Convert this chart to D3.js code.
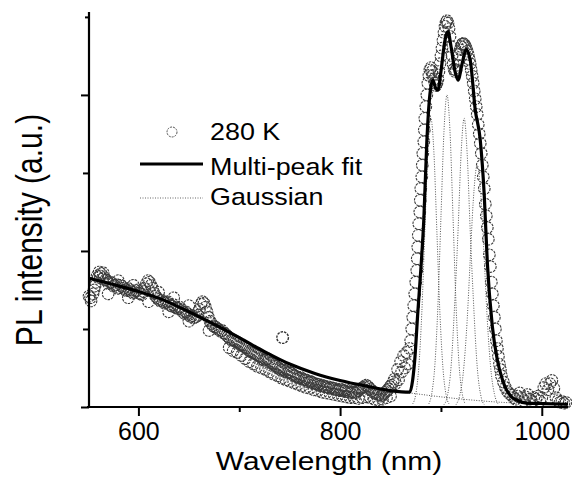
<!DOCTYPE html>
<html><head><meta charset="utf-8">
<script src="https://cdn.jsdelivr.net/npm/d3@7/dist/d3.min.js"></script>
<style>body{margin:0;background:#fff}svg{display:block}</style>
</head><body><svg id="c" width="572" height="480"></svg>
<script>
// ---- data (wavelength nm, PL intensity a.u.) ----
const scatterData = [
[551,1.42],[553,1.36],[555,1.45],[557,1.55],[559,1.68],[561,1.73],[563,1.71],[566,1.66],[569,1.62],[572,1.60],
[575,1.55],[578,1.57],[581,1.53],[584,1.55],[587,1.50],[590,1.52],[593,1.48],[596,1.47],[599,1.50],[602,1.45],
[605,1.48],[608,1.58],[611,1.60],[614,1.52],[617,1.42],[620,1.38],[623,1.37],[626,1.33],[629,1.35],[632,1.30],
[635,1.31],[638,1.27],[641,1.28],[644,1.22],[647,1.22],[650,1.18],[653,1.17],[656,1.15],[659,1.18],[662,1.32],
[665,1.33],[668,1.22],[671,1.10],[674,1.04],[677,1.02],[680,0.99],[683,0.98],[686,0.94],[689,0.90],[692,0.86],
[695,0.85],[698,0.83],[701,0.80],[704,0.78],[707,0.76],[710,0.72],[713,0.70],[716,0.68],[719,0.66],[722,0.63],
[725,0.60],[728,0.62],[731,0.57],[734,0.55],[737,0.52],[740,0.49],[743,0.48],[746,0.46],[749,0.45],[752,0.43],
[755,0.40],[758,0.38],[761,0.38],[764,0.35],[767,0.34],[770,0.33],[773,0.31],[776,0.30],[779,0.29],[782,0.28],
[785,0.26],[788,0.26],[791,0.25],[794,0.24],[797,0.22],[800,0.23],[803,0.21],[806,0.22],[809,0.19],[812,0.20],
[815,0.18],[818,0.21],[821,0.24],[824,0.26],[827,0.27],[830,0.23],[833,0.19],[836,0.17],[839,0.16],[842,0.15],
[845,0.19],[848,0.23],[851,0.28],[854,0.36],[855,0.30],[857,0.48],[858,0.35],[860,0.58],[861,0.45],[863,0.66],
[864,0.50],[866,0.70],[867,0.55],
[869,0.75],[870,0.85],[871,1.0],[872,1.15],[873,1.3],[874,1.45],[875,1.6],[876,1.75],[876.5,1.9],[877,2.05],
[877.5,2.2],[878,2.35],[879,2.5],[879.5,2.65],[880,2.8],[881,2.95],[881.5,3.1],[882,3.25],[883,3.4],[883.5,3.55],
[884,3.7],[885,3.85],[886,4.0],[887,4.15],[888,4.25],[889,4.32],[890,4.35],[891,4.3],[892,4.25],[893,4.2],
[894,4.15],[895,4.12],[896,4.15],[897,4.2],[898,4.3],[899,4.4],[900,4.5],[901,4.6],[902,4.7],[903,4.8],
[904,4.88],[905,4.93],[906,4.95],[907,4.92],[908,4.85],[909,4.75],[910,4.62],[911,4.5],[912,4.4],[913,4.33],
[914,4.3],[915,4.32],[916,4.38],[917,4.45],[918,4.52],[919,4.58],[920,4.62],[921,4.65],[922,4.66],[923,4.65],
[924,4.63],[925,4.6],[926,4.56],[927,4.52],[928,4.46],[929,4.4],[930,4.32],[931,4.24],[932,4.15],[933,4.05],
[934,3.95],[935,3.85],[936,3.75],[937,3.62],[938,3.5],[939,3.38],[940,3.25],[941,3.1],[942,2.95],[943,2.8],
[944,2.6],[945,2.45],[946,2.3],[947,2.15],[948,1.95],[949,1.8],[950,1.6],[951,1.45],[952,1.3],[953,1.15],
[954,1.0],[955,0.85],[956,0.75],[957,0.65],[958,0.55],[959,0.48],[960,0.4],[962,0.32],[964,0.25],[966,0.2],
[968,0.17],[970,0.15],[972,0.12],[974,0.10],[976,0.14],[978,0.18],[980,0.12],[982,0.08],[984,0.13],[986,0.16],
[988,0.10],[990,0.07],[992,0.12],[994,0.10],[996,0.14],[998,0.08],[1000,0.12],[1002,0.25],[1004,0.30],[1006,0.22],
[1008,0.30],[1010,0.34],[1012,0.24],[1014,0.12],[1016,0.08],[1018,0.06],[1020,0.07],[1022,0.05],[1024,0.06]
];
const scatterExtraData = [
[552.5,1.40],[556,1.50],[558,1.60],[560,1.66],[562,1.68],[564.5,1.64],[567.5,1.63],[570.5,1.58],[573.5,1.59],[576.5,1.56],
[579.5,1.52],[582.5,1.56],[585.5,1.52],[588.5,1.49],[591.5,1.50],[594.5,1.46],[597.5,1.49],[600.5,1.46],[603.5,1.44],[606.5,1.52],
[609.5,1.62],[612.5,1.56],[615.5,1.46],[618.5,1.40],[621.5,1.36],[624.5,1.35],[627.5,1.34],[630.5,1.32],[633.5,1.29],[636.5,1.28],
[639.5,1.26],[642.5,1.25],[645.5,1.20],[648.5,1.20],[651.5,1.16],[654.5,1.14],[657.5,1.16],[660.5,1.25],[663.5,1.35],[666.5,1.28],
[669.5,1.15],[672.5,1.07],[675.5,1.03],[678.5,1.00],[681.5,0.97],[684.5,0.95],[687.5,0.92],[690.5,0.88],[693.5,0.86],[696.5,0.84],
[699.5,0.82],[702.5,0.79],[705.5,0.77],[708.5,0.74],[711.5,0.71],[714.5,0.69],[717.5,0.67],[720.5,0.65],[723.5,0.61],[726.5,0.61],
[729.5,0.60],[732.5,0.56],[735.5,0.53],[738.5,0.50],[741.5,0.47],[744.5,0.47],[747.5,0.44],[750.5,0.44],[753.5,0.41],[756.5,0.39],
[759.5,0.37],[762.5,0.36],[765.5,0.35],[768.5,0.32],[771.5,0.32],[774.5,0.30],[777.5,0.29],[780.5,0.27],[783.5,0.27],[786.5,0.25],
[789.5,0.24],[792.5,0.24],[795.5,0.22],[798.5,0.21],[801.5,0.22],[804.5,0.20],[807.5,0.20],[810.5,0.18],[813.5,0.19],[816.5,0.19],
[819.5,0.23],[822.5,0.25],[825.5,0.28],[828.5,0.25],[831.5,0.21],[834.5,0.18],[837.5,0.16],[840.5,0.14],[843.5,0.17],[846.5,0.21],
[849.5,0.26],[852.5,0.32]
];
const scatterSpreadData = [
[565,1.72],[580,1.62],[595,1.56],[620,1.47],[635,1.40],[650,1.30],[570,1.45],[590,1.40],[610,1.35],[630,1.22],[650,1.10],[670,0.98],
[690,0.76],[694,0.72],[698,0.70],[702,0.66],[706,0.62],[710,0.58],[714,0.55],[718,0.52],[722,0.50],[726,0.48],[730,0.45],[734,0.42],
[738,0.40],[742,0.37],[746,0.35],[750,0.33],[754,0.31],[758,0.29],[762,0.27],[766,0.25],[770,0.24],[774,0.22],[778,0.21],[782,0.19],
[786,0.18],[790,0.17],[794,0.16],[798,0.15],[802,0.14],[806,0.13],[810,0.12],[814,0.12],[818,0.11],[822,0.12],[826,0.13],[830,0.12],
[834,0.10],[838,0.09],[842,0.10],[846,0.12],[850,0.14]
];
const outlierData = [[743,0.89]];

const fitData = [
[551,1.65],[575,1.57],[600,1.48],[625,1.37],[650,1.22],[675,1.06],[700,0.89],[725,0.71],[750,0.55],[775,0.43],
[800,0.34],[825,0.27],[850,0.21],[869,0.19],[872,0.35],[874,0.60],[877,1.20],[880,1.75],[883,2.4],[886,3.4],
[889,4.0],[892,4.19],[895,4.08],[897,4.06],[900,4.3],[904,4.7],[907,4.81],[910,4.62],[914,4.3],[917,4.19],
[921,4.4],[925,4.58],[929,4.45],[934,3.81],[939,3.42],[943,2.7],[946,1.85],[951,1.03],[956,0.6],[961,0.35],
[965,0.22],[970,0.13],[975,0.09],[985,0.05],[1000,0.045],[1026,0.035]
];

const baselineData = [
[551,1.65],[575,1.57],[600,1.48],[625,1.37],[650,1.22],[675,1.06],[700,0.89],[725,0.71],[750,0.55],[775,0.43],
[800,0.34],[825,0.27],[850,0.21],[869,0.18],[900,0.13],[930,0.09],[960,0.06],[990,0.045],[1026,0.035]
];
const gaussA = [[872,0.04],[875,0.16],[878,0.5],[881,1.2],[884,2.24],[887,3.27],[890,3.7],[893,3.27],[896,2.24],[899,1.2],[902,0.5],[905,0.16],[908,0.04]];
const gaussB = [[888,0.04],[891,0.18],[894,0.54],[897,1.3],[900,2.43],[903,3.53],[906,4.0],[909,3.53],[912,2.43],[915,1.3],[918,0.54],[921,0.18],[924,0.04]];
const gaussC = [[903,0.03],[906,0.12],[910,0.51],[914,1.42],[917,2.27],[920,3.25],[923,3.7],[926,3.25],[929,2.27],[932,1.42],[936,0.51],[940,0.12],[943,0.03]];
const gaussD = [[915,0.03],[919,0.17],[922,0.42],[926,1.11],[929,1.88],[932,2.63],[936,3.1],[940,2.63],[943,1.88],[946,1.11],[950,0.42],[953,0.17],[957,0.03]];

const xTicks = [600, 700, 800, 900, 1000];
const xTickLabels = ["600", "", "800", "", "1000"];
const yTicks = [0, 1, 2, 3, 4, 5];
const legendLabels = ["280 K", "Multi-peak fit", "Gaussian"];
const xTitle = "Wavelength (nm)";
const yTitle = "PL intensity (a.u.)";

// ---- drawing ----
const svg = d3.select("#c");
const FONT = "Arial, 'Liberation Sans', Helvetica, sans-serif";
const x = d3.scaleLinear().domain([551, 1026]).range([89, 568]);
const y = d3.scaleLinear().domain([0, 5.05]).range([407, 13]);

const line = d3.line().x(d => x(d[0])).y(d => y(d[1])).curve(d3.curveMonotoneX);

// scatter
svg.append("g").selectAll("circle")
  .data(scatterData.concat(scatterExtraData, scatterSpreadData)).join("circle")
  .attr("cx", d => x(d[0])).attr("cy", d => y(d[1])).attr("r", 5.8)
  .attr("fill", "none").attr("stroke", "#3a3a3a").attr("stroke-width", 1.1)
  .attr("stroke-dasharray", "2.5,1");
svg.append("g").selectAll("circle").data(outlierData).join("circle")
  .attr("cx", d => x(d[0])).attr("cy", d => y(d[1])).attr("r", 5.8)
  .attr("fill", "#fff").attr("stroke", "#333").attr("stroke-width", 1.4)
  .attr("stroke-dasharray", "2.5,1");

// gaussian components
[baselineData, gaussA, gaussB, gaussC, gaussD].forEach(g => {
  svg.append("path").datum(g).attr("d", line)
    .attr("fill", "none").attr("stroke", "#555").attr("stroke-width", 1)
    .attr("stroke-dasharray", "1,1.5");
});

// fit
svg.append("path").datum(fitData).attr("d", line)
  .attr("fill", "none").attr("stroke", "#000").attr("stroke-width", 3.2)
  .attr("stroke-linejoin", "round");

// axes
const xAxis = d3.axisBottom(x).tickValues(xTicks)
  .tickSize(0).tickFormat((d, i) => xTickLabels[i]);
const gx = svg.append("g").attr("transform", "translate(0,407)").call(xAxis);
gx.select(".domain").remove();
gx.selectAll(".tick text").attr("font-family", FONT).attr("font-size", 25)
  .attr("fill", "#000").attr("dy", 0).attr("y", 33);
gx.selectAll(".tick").append("line")
  .attr("y1", 0).attr("y2", (d, i) => xTickLabels[i] ? 9 : 5)
  .attr("stroke", "#000").attr("stroke-width", 2);
svg.append("line").attr("x1", 87).attr("x2", 568).attr("y1", 407).attr("y2", 407)
  .attr("stroke", "#000").attr("stroke-width", 2.2);

const yAxis = d3.axisLeft(y).tickValues(yTicks).tickSize(0).tickFormat("");
const gy = svg.append("g").attr("transform", "translate(89,0)").call(yAxis);
gy.select(".domain").remove();
gy.selectAll(".tick").append("line")
  .attr("x1", 0).attr("x2", d => d % 2 === 0 ? -8 : (d === 5 ? -4 : -6))
  .attr("stroke", "#000").attr("stroke-width", 2);
svg.append("line").attr("x1", 89).attr("x2", 89).attr("y1", 12).attr("y2", 408)
  .attr("stroke", "#000").attr("stroke-width", 2.2);

// axis titles
svg.append("text").text(xTitle)
  .attr("transform", "translate(329,470) scale(1.15,1)")
  .attr("text-anchor", "middle").attr("font-family", FONT).attr("font-size", 26).attr("fill", "#000");
svg.append("text").text(yTitle)
  .attr("transform", "translate(42,230) scale(1.2,1) rotate(-90)")
  .attr("text-anchor", "middle").attr("font-family", FONT).attr("font-size", 30).attr("fill", "#000");

// legend
const lg = svg.append("g");
const rowsY = [132, 164, 198];
const textY = [140, 175, 205];
lg.append("circle").attr("cx", 172).attr("cy", rowsY[0]).attr("r", 5)
  .attr("fill", "none").attr("stroke", "#555").attr("stroke-width", 1).attr("stroke-dasharray", "2,1");
lg.append("line").attr("x1", 140).attr("x2", 203).attr("y1", rowsY[1]).attr("y2", rowsY[1])
  .attr("stroke", "#000").attr("stroke-width", 3);
lg.append("line").attr("x1", 140).attr("x2", 203).attr("y1", rowsY[2]).attr("y2", rowsY[2])
  .attr("stroke", "#666").attr("stroke-width", 1).attr("stroke-dasharray", "1,1.5");
legendLabels.forEach((t, i) => {
  lg.append("text").text(t)
    .attr("transform", `translate(210,${textY[i]}) scale(1.12,1)`)
    .attr("font-family", FONT).attr("font-size", 24).attr("fill", "#000");
});
</script></body></html>
